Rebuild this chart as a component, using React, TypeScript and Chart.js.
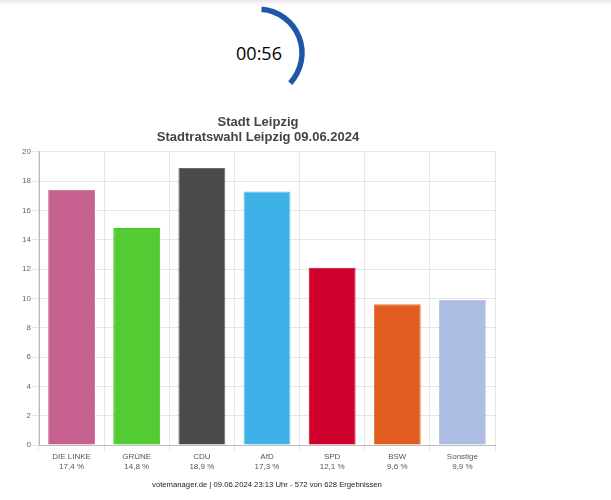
import React, { useEffect, useRef } from "react";
import { Chart, registerables } from "chart.js";

Chart.register(...registerables);

const parties = ["DIE LINKE", "GRÜNE", "CDU", "AfD", "SPD", "BSW", "Sonstige"];
const shares = [17.4, 14.8, 18.9, 17.3, 12.1, 9.6, 9.9];
const shareLabels = ["17,4 %", "14,8 %", "18,9 %", "17,3 %", "12,1 %", "9,6 %", "9,9 %"];
const fillColors = ["#c5608f", "#52cc32", "#4a4a4a", "#3eb1e8", "#cf002c", "#e05c1f", "#adbde2"];
const borderColors = ["#d27aa3", "#44c826", "#6a6a6a", "#5cc2f0", "#c40028", "#e8702f", "#bac7e8"];
const titleLines = ["Stadt Leipzig", "Stadtratswahl Leipzig 09.06.2024"];
const footerText = "votemanager.de | 09.06.2024 23:13 Uhr - 572 von 628 Ergebnissen";
const timerText = "00:56";

const FONT = "'Liberation Sans', Arial, sans-serif";

export default function App() {
  const ref = useRef<HTMLCanvasElement | null>(null);
  useEffect(() => {
    if (!ref.current) return;
    const chart = new Chart(ref.current, {
      type: "bar",
      data: {
        labels: parties.map((p, i) => [p, shareLabels[i]]),
        datasets: [
          {
            data: shares,
            backgroundColor: fillColors,
            borderColor: borderColors,
            borderWidth: 1,
            categoryPercentage: 0.72,
            barPercentage: 1,
          },
        ],
      },
      options: {
        responsive: false,
        animation: false,
        layout: { padding: { left: 0, right: 4, top: 0, bottom: 26 } },
        plugins: {
          legend: { display: false },
          tooltip: { enabled: false },
          title: {
            display: true,
            text: titleLines,
            color: "#444",
            font: { family: FONT, size: 13, weight: "bold", lineHeight: 1.15 },
            padding: { top: 10, bottom: 7 },
          },
        },
        scales: {
          x: {
            grid: { color: "#e6e6e6", tickLength: 6, offset: true },
            border: { color: "#bbbbbb" },
            ticks: {
              color: "#555",
              font: { family: FONT, size: 8, lineHeight: 1.25 },
              padding: 1,
              maxRotation: 0,
              autoSkip: false,
            },
            afterFit: (s: any) => {
              s.height = 29;
            },
          },
          y: {
            min: 0,
            max: 20,
            grid: { color: "#e6e6e6", tickLength: 7 },
            border: { color: "#bbbbbb" },
            ticks: {
              stepSize: 2,
              color: "#666",
              font: { family: FONT, size: 8 },
              padding: 1,
            },
            afterFit: (s: any) => {
              s.width = 39;
            },
          },
          y2: {
            position: "right",
            min: 0,
            max: 20,
            grid: { display: false, drawTicks: false },
            border: { display: false },
            ticks: { display: false },
            afterFit: (s: any) => {
              s.width = 21;
            },
          },
        },
      },
    });
    return () => chart.destroy();
  }, []);

  return (
    <div>
      <div
        style={{
          position: "absolute",
          left: 0,
          top: 0,
          width: 611,
          height: 6,
          background: "linear-gradient(#e8e8e8, #ffffff)",
        }}
      />
      <svg
        style={{ position: "absolute", left: 208, top: 3, overflow: "visible" }}
        width={100}
        height={100}
      >
        <path
          d={(() => {
            const cx = 50, cy = 50, r = 44;
            const a0 = -Math.PI / 2 + 0.08;
            const a1 = (43 * Math.PI) / 180;
            const x0 = cx + r * Math.cos(a0), y0 = cy + r * Math.sin(a0);
            const x1 = cx + r * Math.cos(a1), y1 = cy + r * Math.sin(a1);
            return `M ${x0} ${y0} A ${r} ${r} 0 0 1 ${x1} ${y1}`;
          })()}
          fill="none"
          stroke="#1e56a8"
          strokeWidth={5.5}
        />
      </svg>
      <div
        style={{
          position: "absolute",
          left: 209,
          top: 41,
          width: 100,
          textAlign: "center",
          fontFamily: "'Open Sans', 'Noto Sans', sans-serif",
          fontSize: 18,
          fontWeight: 500,
          lineHeight: "24px",
          color: "#000",
        }}
      >
        {timerText}
      </div>
      <canvas
        ref={ref}
        width={520}
        height={395}
        style={{ position: "absolute", left: 0, top: 105, width: 520, height: 395 }}
      />
      <div
        style={{
          position: "absolute",
          left: 39,
          top: 479,
          width: 456,
          textAlign: "center",
          fontFamily: FONT,
          fontSize: 7.7,
          lineHeight: "12px",
          color: "#222",
          whiteSpace: "nowrap",
        }}
      >
        {footerText}
      </div>
    </div>
  );
}
